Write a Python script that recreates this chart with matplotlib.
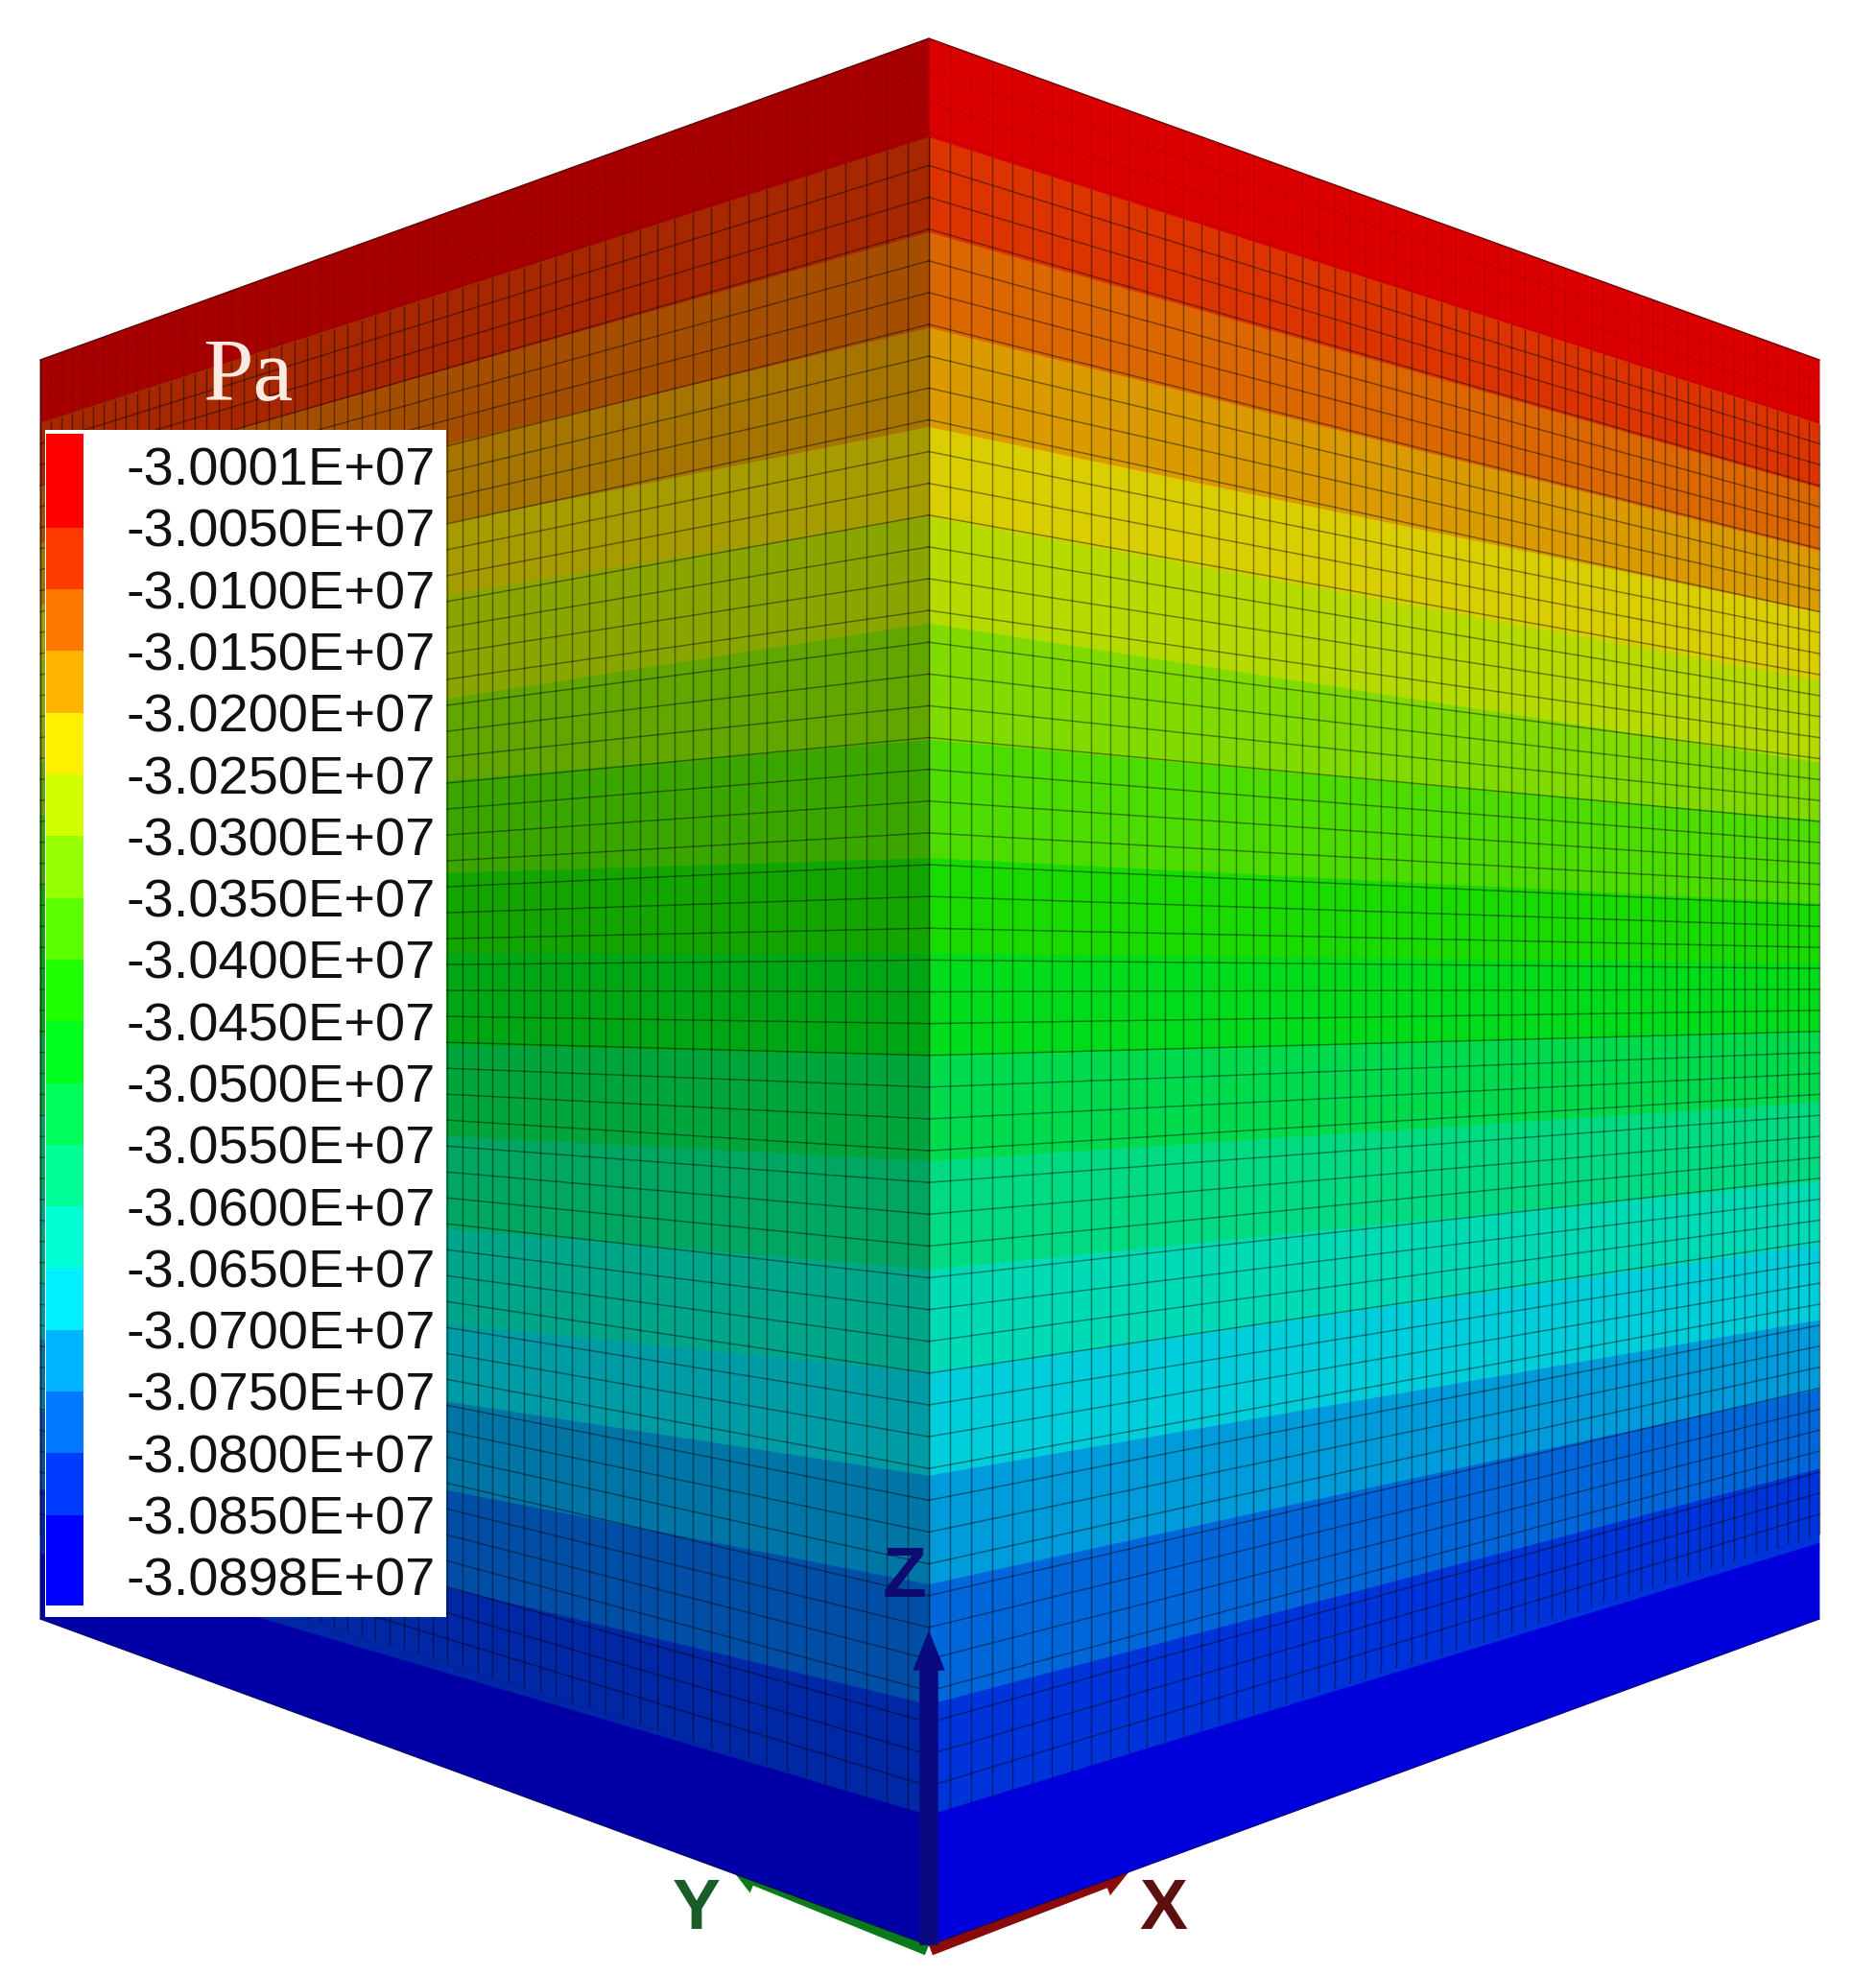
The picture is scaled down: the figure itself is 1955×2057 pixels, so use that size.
"""Pressure contours on the outside of a meshed cube, with legend and axis triad."""

import matplotlib

matplotlib.use("Agg")
import matplotlib.pyplot as plt
import numpy as np
from matplotlib.colors import to_rgb
from matplotlib.patches import FancyArrowPatch, Rectangle

# Legend levels, top to bottom
LEVEL_LABELS = [
    "-3.0001E+07", "-3.0050E+07", "-3.0100E+07", "-3.0150E+07", "-3.0200E+07",
    "-3.0250E+07", "-3.0300E+07", "-3.0350E+07", "-3.0400E+07", "-3.0450E+07",
    "-3.0500E+07", "-3.0550E+07", "-3.0600E+07", "-3.0650E+07", "-3.0700E+07",
    "-3.0750E+07", "-3.0800E+07", "-3.0850E+07", "-3.0898E+07",
]
BAND_COLORS = [
    "#ff0000", "#ff3c00", "#ff7800", "#ffb400", "#fff000", "#d2ff00",
    "#96ff00", "#5aff00", "#1eff00", "#00ff1e", "#00ff5a", "#00ff96",
    "#00ffd2", "#00f0ff", "#00b4ff", "#0078ff", "#003cff", "#0000ff",
]

# Where each contour meets the box, as a fraction of the box height there
DEPTH_LEFT = [0.0, 0.050, 0.100, 0.146, 0.195, 0.240, 0.320, 0.362, 0.418, 0.472,
              0.537, 0.600, 0.663, 0.734, 0.778, 0.835, 0.897, 0.948, 1.0]
DEPTH_CENTER = [0.0, 0.052, 0.102, 0.152, 0.204, 0.251, 0.307, 0.368, 0.430, 0.480,
                0.534, 0.589, 0.646, 0.700, 0.754, 0.811, 0.874, 0.932, 1.0]
DEPTH_RIGHT = [0.0, 0.051, 0.102, 0.152, 0.201, 0.255, 0.320, 0.366, 0.432, 0.480,
               0.534, 0.590, 0.653, 0.703, 0.763, 0.818, 0.881, 0.940, 1.0]

# Box outline in image pixels
CX, TOP_APEX, BOTTOM_APEX = 968, 40, 2027
LEFT_X, RIGHT_X, EDGE_TOP, EDGE_BOTTOM = 42, 1896, 375, 1687
N_CELLS = 60
PERSPECTIVE = 0.446
LEFT_SHADE = 0.65
RIGHT_SHADE = 0.86


def shade(color, factor):
    return tuple(c * factor for c in to_rgb(color))


def column_offsets():
    """Distance of the mesh columns from the centre edge, as a share of the face width."""
    s = np.arange(N_CELLS + 1) / N_CELLS
    return s * (1 + PERSPECTIVE) / (1 + PERSPECTIVE * s)


def draw_face(ax, edge_x, edge_depths, face_shade):
    # contour bands
    for k, color in enumerate(BAND_COLORS):
        xs = [CX, edge_x, edge_x, CX]
        ys = [
            TOP_APEX + DEPTH_CENTER[k] * (BOTTOM_APEX - TOP_APEX),
            EDGE_TOP + edge_depths[k] * (EDGE_BOTTOM - EDGE_TOP),
            EDGE_TOP + edge_depths[k + 1] * (EDGE_BOTTOM - EDGE_TOP),
            TOP_APEX + DEPTH_CENTER[k + 1] * (BOTTOM_APEX - TOP_APEX),
        ]
        c = shade(color, face_shade)
        ax.fill(xs, ys, color=c, lw=0.6, zorder=2)

    # mesh: faint in the first band, gone in the last one
    first, last = DEPTH_CENTER[1], DEPTH_CENTER[17]
    span_c = BOTTOM_APEX - TOP_APEX
    span_e = EDGE_BOTTOM - EDGE_TOP
    for t in column_offsets():
        x = CX + (edge_x - CX) * t
        top = TOP_APEX + (EDGE_TOP - TOP_APEX) * t
        height = span_c + (span_e - span_c) * t
        ax.plot([x, x], [top, top + first * height], color="k", lw=0.9, alpha=0.08, zorder=3)
        ax.plot([x, x], [top + first * height, top + last * height],
                color="k", lw=1.05, alpha=0.42, zorder=3)
    for j in range(N_CELLS + 1):
        f = j / N_CELLS
        alpha = 0.08 if f < first else 0.42 if f < last else 0.04
        ax.plot(
            [CX, edge_x],
            [TOP_APEX + f * span_c, EDGE_TOP + f * span_e],
            color="k", lw=1.05, alpha=alpha, zorder=3,
        )


def triad_arrow(ax, tip, color, zorder, tail, head_w, head_l):
    style = f"simple,tail_width={tail},head_width={head_w},head_length={head_l}"
    ax.add_patch(FancyArrowPatch((CX, BOTTOM_APEX), tip, arrowstyle=style, mutation_scale=1,
                                 shrinkA=0, shrinkB=0, color=color, lw=0, zorder=zorder))


def draw_triad(ax):
    # X and Y sit under the faces, so only their outer half shows along the edge
    triad_arrow(ax, (758, 1942), "#0b7a1a", 1, 16, 28, 24)
    triad_arrow(ax, (1181, 1945), "#8b0a0a", 1, 16, 28, 24)
    triad_arrow(ax, (968, 1699), "#0a0a80", 6, 14, 24, 30)

    font = dict(family="Liberation Sans", fontweight="bold", fontsize=54, ha="center", va="center")
    ax.text(943, 1645, "Z", color="#0c0c70", zorder=7, **font)
    ax.text(726, 1991, "Y", color="#1a5c2a", zorder=7, **font)
    ax.text(1212, 1991, "X", color="#5c1010", zorder=7, **font)


def draw_legend(ax):
    ax.add_patch(Rectangle((47, 448), 418, 1237, facecolor="white", edgecolor="none", zorder=8))
    first_y, step = 485.5, 64.3
    label_y = [first_y + i * step for i in range(len(LEVEL_LABELS))]

    # colour steps change on the label lines, the end bands run past them
    edges = [452] + label_y[1:18] + [1673]
    for k, color in enumerate(BAND_COLORS):
        ax.add_patch(Rectangle((48, edges[k]), 39, edges[k + 1] - edges[k],
                               facecolor=color, edgecolor="none", zorder=9))
    for y, label in zip(label_y, LEVEL_LABELS):
        ax.text(454, y, label, family="Liberation Sans", fontsize=40.3, color="#111111",
                ha="right", va="center_baseline", zorder=9)
    ax.text(258, 417, "Pa", family="Liberation Serif", fontsize=68, color="#fbeae2",
            ha="center", va="baseline", zorder=9)


def main():
    fig = plt.figure(figsize=(19.56, 20.57), dpi=100)
    ax = fig.add_axes([0, 0, 1, 1])
    ax.set_xlim(0, 1956)
    ax.set_ylim(2057, 0)
    ax.axis("off")

    draw_face(ax, LEFT_X, DEPTH_LEFT, LEFT_SHADE)
    draw_face(ax, RIGHT_X, DEPTH_RIGHT, RIGHT_SHADE)

    # dark outline along the top and the near edges
    ax.plot([LEFT_X, CX, RIGHT_X], [EDGE_TOP, TOP_APEX, EDGE_TOP],
            color="#300000", lw=1.0, alpha=0.6, zorder=4)
    ax.plot([LEFT_X, LEFT_X], [EDGE_TOP, EDGE_BOTTOM], color="k", lw=1.0, alpha=0.4, zorder=4)
    ax.plot([LEFT_X, CX, RIGHT_X], [EDGE_BOTTOM, BOTTOM_APEX, EDGE_BOTTOM],
            color="#000040", lw=1.0, alpha=0.5, zorder=4)

    draw_triad(ax)
    draw_legend(ax)

    fig.savefig("out.png", dpi=100, facecolor="white")
    plt.close(fig)


if __name__ == "__main__":
    main()
